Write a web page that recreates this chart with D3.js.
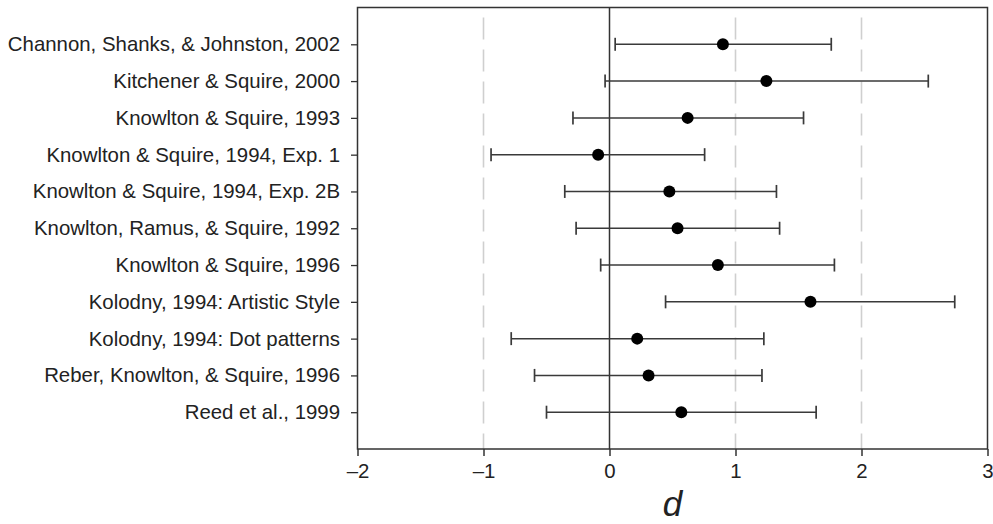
<!DOCTYPE html>
<html>
<head>
<meta charset="utf-8">
<script src="https://cdn.jsdelivr.net/npm/d3@7"></script>
<style>
  html, body { margin: 0; padding: 0; background: #fff; }
  svg { display: block; }
  text { font-family: "Liberation Sans", Arial, Helvetica, sans-serif; fill: #222; }
</style>
</head>
<body>
<svg id="chart" width="993" height="524"></svg>
<script>
const studies = [
  "Channon, Shanks, & Johnston, 2002",
  "Kitchener & Squire, 2000",
  "Knowlton & Squire, 1993",
  "Knowlton & Squire, 1994, Exp. 1",
  "Knowlton & Squire, 1994, Exp. 2B",
  "Knowlton, Ramus, & Squire, 1992",
  "Knowlton & Squire, 1996",
  "Kolodny, 1994: Artistic Style",
  "Kolodny, 1994: Dot patterns",
  "Reber, Knowlton, & Squire, 1996",
  "Reed et al., 1999"
];
const effectD = [0.90, 1.245, 0.62, -0.09, 0.475, 0.54, 0.86, 1.595, 0.22, 0.31, 0.57];
const ciLow   = [0.045, -0.035, -0.29, -0.94, -0.355, -0.265, -0.07, 0.445, -0.78, -0.595, -0.50];
const ciHigh  = [1.76, 2.53, 1.54, 0.755, 1.325, 1.35, 1.785, 2.74, 1.225, 1.21, 1.64];
const xTicks  = [-2, -1, 0, 1, 2, 3];
const refLines = [-1, 1, 2];

const svg = d3.select("#chart");
const L = 357.5, R = 987.5, T = 7.5, B = 449;

const x = d3.scaleLinear().domain([-2, 3]).range([L, R]);
const y = d3.scalePoint().domain(studies).range([T, B]).padding(1);

// dashed reference lines
svg.append("g").selectAll("line").data(refLines).join("line")
  .attr("x1", d => x(d)).attr("x2", d => x(d))
  .attr("y1", T).attr("y2", B)
  .attr("stroke", "#cfcfcf").attr("stroke-width", 1.6)
  .attr("stroke-dasharray", "22,10").attr("stroke-dashoffset", 22);

// zero line
svg.append("line")
  .attr("x1", x(0)).attr("x2", x(0)).attr("y1", T).attr("y2", B)
  .attr("stroke", "#333").attr("stroke-width", 1.5);

// frame
svg.append("rect")
  .attr("x", L).attr("y", T).attr("width", R - L).attr("height", B - T)
  .attr("fill", "none").attr("stroke", "#333").attr("stroke-width", 1.5);

// axes
const xAxis = svg.append("g").attr("transform", `translate(0,${B})`)
  .call(d3.axisBottom(x).tickValues(xTicks).tickSize(7).tickSizeOuter(0).tickPadding(8)
        .tickFormat(d => d < 0 ? "\u2013" + Math.abs(d) : String(d)));
xAxis.select(".domain").remove();
xAxis.selectAll(".tick line").attr("stroke", "#333").attr("stroke-width", 1.5);
xAxis.selectAll(".tick text").attr("font-size", 20.4).attr("fill", "#1a1a1a")
  .style("font-family", "'Liberation Sans', Arial, sans-serif");

const yAxis = svg.append("g").attr("transform", `translate(${L},0)`)
  .call(d3.axisLeft(y).tickSize(6.5).tickSizeOuter(0).tickPadding(11));
yAxis.select(".domain").remove();
yAxis.selectAll(".tick line").attr("stroke", "#333").attr("stroke-width", 1.3);
yAxis.selectAll(".tick text").attr("font-size", 20.4).attr("fill", "#1a1a1a")
  .style("font-family", "'Liberation Sans', Arial, sans-serif");

// error bars
const rows = studies.map((s, i) => ({ s, d: effectD[i], lo: ciLow[i], hi: ciHigh[i] }));
const g = svg.append("g");
g.selectAll(".bar").data(rows).join("line").attr("class", "bar")
  .attr("x1", r => x(r.lo)).attr("x2", r => x(r.hi))
  .attr("y1", r => y(r.s)).attr("y2", r => y(r.s))
  .attr("stroke", "#3a3a3a").attr("stroke-width", 1.5);
g.selectAll(".capL").data(rows).join("line").attr("class", "capL")
  .attr("x1", r => x(r.lo)).attr("x2", r => x(r.lo))
  .attr("y1", r => y(r.s) - 6.5).attr("y2", r => y(r.s) + 6.5)
  .attr("stroke", "#3a3a3a").attr("stroke-width", 1.7);
g.selectAll(".capR").data(rows).join("line").attr("class", "capR")
  .attr("x1", r => x(r.hi)).attr("x2", r => x(r.hi))
  .attr("y1", r => y(r.s) - 6.5).attr("y2", r => y(r.s) + 6.5)
  .attr("stroke", "#3a3a3a").attr("stroke-width", 1.7);
g.selectAll(".pt").data(rows).join("circle").attr("class", "pt")
  .attr("cx", r => x(r.d)).attr("cy", r => y(r.s)).attr("r", 6)
  .attr("fill", "#000");

// axis title
svg.append("text")
  .attr("x", x(0.5)).attr("y", 516)
  .attr("text-anchor", "middle")
  .attr("font-size", 35).attr("font-style", "italic")
  .text("d");
</script>
</body>
</html>
